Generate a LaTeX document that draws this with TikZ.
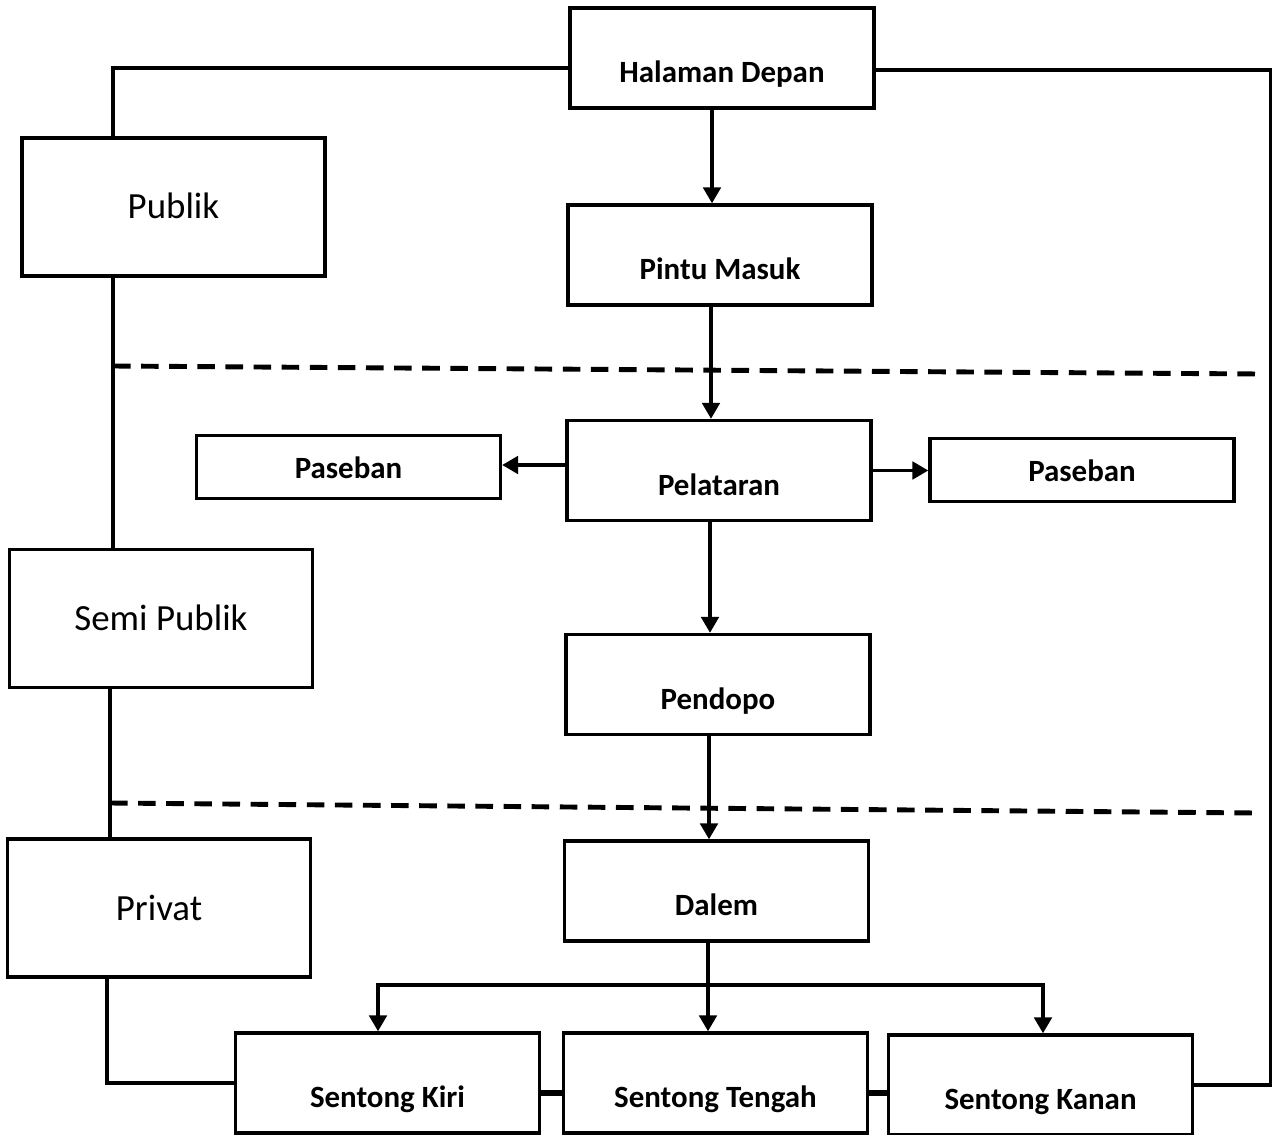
\documentclass[tikz,border=0pt]{standalone}
\usepackage{fontspec}
\setmainfont{Carlito}
\usetikzlibrary{arrows.meta}
\tikzstyle{room} = [rectangle, minimum width=6.08cm, minimum height=2cm, inner sep=0pt, text height=1.5cm, text depth=0.5cm, text centered, draw=black, line width=2pt, font=\fontsize{17.6}{20}\selectfont\bfseries]
\tikzstyle{side} = [room, minimum height=1.26cm, text height=0.86cm, text depth=0.4cm]
\tikzstyle{zone} = [rectangle, minimum width=6.06cm, minimum height=2.76cm, inner sep=0pt, text height=1.62cm, text depth=1.14cm, text centered, draw=black, line width=2pt, font=\fontsize{21}{25}\selectfont]
\tikzstyle{arrow} = [line width=1.8pt,->,>={Triangle[length=9pt,width=10pt]}]
\tikzstyle{link} = [line width=1.8pt]
\tikzstyle{joint} = [line width=3.6pt]
\tikzstyle{divider} = [line width=2.8pt, dash pattern=on 10pt off 6pt]

\begin{document}
\begin{tikzpicture}[x=0.02cm, y=-0.02cm]
\useasboundingbox (0,0) rectangle (1276,1135);

\node (hd) [room] at (722,58) {Halaman Depan};
\node (pm) [room] at (720,255) {Pintu Masuk};
\node (pel) [room] at (719,470.5) {Pelataran};
\node (pasL) [side] at (348.5,467) {Paseban};
\node (pasR) [side] at (1082,470) {Paseban};
\node (pend) [room] at (718,684.5) {Pendopo};
\node (dalem) [room] at (716.5,891) {Dalem};
\node (skiri) [room] at (387.5,1083) {Sentong Kiri};
\node (stengah) [room] at (715.5,1083) {Sentong Tengah};
\node (skanan) [room] at (1040.5,1085) {Sentong Kanan};

\node (pub) [zone] at (173.5,207) {Publik};
\node (semi) [zone] at (161,618.5) {Semi Publik};
\node (priv) [zone] at (159,908) {Privat};

% zone borders
\coordinate (batas1w) at (113,366);
\coordinate (batas1e) at (1258,374);
\coordinate (batas2w) at (110,803);
\coordinate (batas2e) at (1255,813);
\draw [divider] (batas1w) -- (batas1e);
\draw [divider] (batas2w) -- (batas2e);

\draw [arrow] ([xshift=-0.2cm]hd.south) -- ([xshift=-0.2cm]hd.south |- pm.north);
\draw [arrow] ([xshift=-0.18cm]pm.south) -- ([xshift=-0.18cm]pm.south |- pel.north);
\draw [arrow] ([xshift=-0.18cm]pel.south) -- ([xshift=-0.18cm]pel.south |- pend.north);
\draw [arrow] ([xshift=-0.18cm]pend.south) -- ([xshift=-0.18cm]pend.south |- dalem.north);

\draw [arrow] ([yshift=0.11cm]pel.west) -- ([yshift=0.11cm]pel.west -| pasL.east);
\draw [arrow] (pel.east) -- (pel.east -| pasR.west);

\draw [arrow] ([xshift=-0.17cm]dalem.south) -- ([xshift=-0.17cm]dalem.south |- stengah.north);
\coordinate (cabang) at (708,985);
\draw [arrow] (cabang) -| ([xshift=-0.19cm]skiri.north);
\draw [arrow] (cabang) -| ([xshift=0.05cm]skanan.north);

\draw [joint] ([yshift=-0.2cm]skiri.east) -- ([yshift=-0.2cm]skiri.east -| stengah.west);
\draw [joint] ([yshift=-0.2cm]stengah.east) -- ([yshift=-0.2cm]stengah.east -| skanan.west);

% outer loop
\draw [link] ([yshift=-0.2cm]hd.west) -| ([xshift=-1.21cm]pub.north);
\draw [link] ([xshift=-1.21cm]pub.south) -- ([xshift=-1.21cm]pub.south |- semi.north);
\draw [link] ([xshift=-1.02cm]semi.south) -- ([xshift=-1.02cm]semi.south |- priv.north);
\draw [link] ([xshift=-1.04cm]priv.south) |- (skiri.west);
\draw [link] ([yshift=-0.24cm]hd.east) -| ([xshift=1.52cm]skanan.east) -- (skanan.east);

\end{tikzpicture}
\end{document}
